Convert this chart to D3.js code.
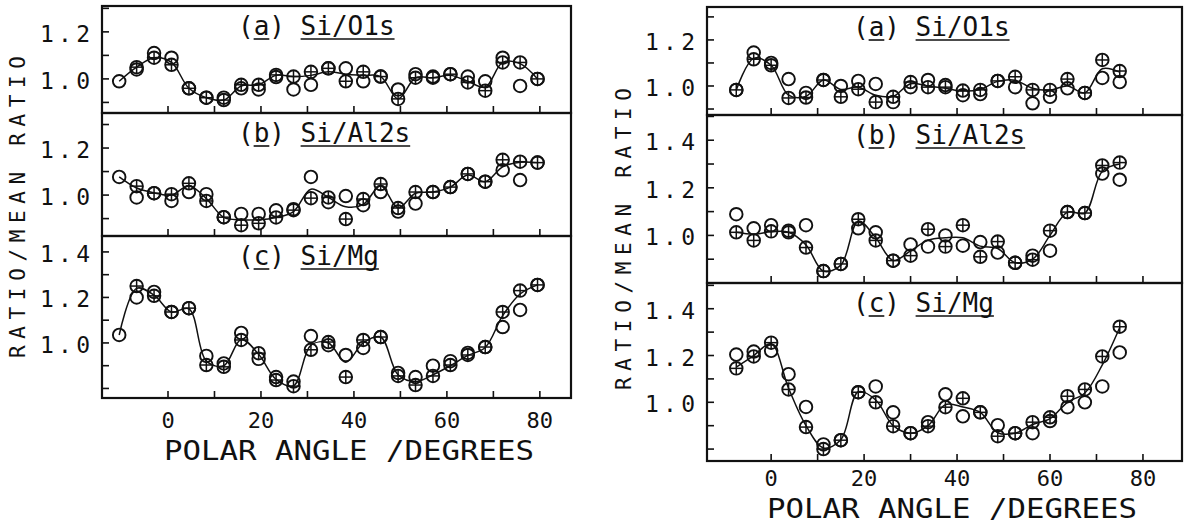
<!doctype html>
<html lang="en">
<head>
<meta charset="UTF-8">
<title>Ratio / mean ratio vs polar angle</title>
<script src="https://d3js.org/d3.v7.min.js"></script>
<style>
  body { margin: 0; background: #fff; }
  text { font-family: 'DejaVu Sans Mono', monospace; fill: #111; }
  .frame { fill: none; stroke: #111; stroke-width: 2.2px; }
  .tick { stroke: #111; stroke-width: 1.6px; }
  .fit { fill: none; stroke: #111; stroke-width: 1.5px; }
  .mark circle { fill: none; stroke: #111; stroke-width: 1.9px; }
  .mark line { stroke: #111; stroke-width: 1.5px; }
  .uline { stroke: #111; stroke-width: 1.6px; }
</style>
</head>
<body>
<script>
// polar angles (degrees) of the measured points
const anglesLeft = [-10.5, -6.75, -3, 0.75, 4.5, 8.25, 12, 15.75, 19.5, 23.25, 27, 30.75, 34.5,
                    38.25, 42, 45.75, 49.5, 53.25, 57, 60.75, 64.5, 68.25, 72, 75.75, 79.5];
const anglesRight = [-7.5, -3.75, 0, 3.75, 7.5, 11.25, 15, 18.75, 22.5, 26.25, 30, 33.75,
                     37.5, 41.25, 45, 48.75, 52.5, 56.25, 60, 63.75, 67.5, 71.25, 75];

const xTicks = [0, 10, 20, 30, 40, 50, 60, 70, 80];
const xTickLabels = [0, 20, 40, 60, 80];

// left figure — open circles, crossed circles, smooth line
const leftA_circ = [0.99, 1.04, 1.11, 1.09, 0.96, 0.92, 0.92, 0.96, 0.955, 1.008, 0.955, 0.975, 1.045,
                    1.045, 0.99, 1.01, 0.955, 1.02, 1.01, 1.02, 1.01, 0.99, 1.09, 0.97, 1.0];
const leftA_plus = [null, 1.05, 1.09, 1.06, 0.96, 0.92, 0.91, 0.975, 0.975, 1.017, 1.01, 1.03, 1.045,
                    0.99, 1.03, 1.01, 0.915, 1.005, 1.005, 1.02, 0.985, 0.95, 1.07, 1.07, 1.0];
const leftA_fit  = [0.99, 1.05, 1.09, 1.07, 0.96, 0.92, 0.91, 0.97, 0.975, 1.015, 1.01, 1.015, 1.03,
                    1.02, 1.015, 1.01, 0.915, 1.005, 1.005, 1.015, 0.99, 0.965, 1.07, 1.065, 1.0];

const leftB_circ = [1.077, 0.99, 1.008, 0.975, 1.013, 1.004, 0.906, 0.92, 0.92, 0.935, 0.94, 1.077, 0.97,
                    0.996, 0.957, 1.013, 0.93, 0.964, 1.013, 1.034, 1.09, 1.057, 1.106, 1.064, 1.138];
const leftB_plus = [null, 1.038, 1.008, 1.004, 1.05, 0.975, 0.906, 0.872, 0.88, 0.905, 0.936, 0.987, 0.99,
                    0.898, 0.983, 1.047, 0.945, 1.013, 1.013, 1.034, 1.09, 1.057, 1.15, 1.142, 1.138];
const leftB_fit  = [1.077, 1.03, 1.01, 1.0, 1.04, 0.985, 0.905, 0.895, 0.895, 0.905, 0.93, 1.025, 0.99,
                    0.95, 0.96, 1.04, 0.945, 1.008, 1.013, 1.034, 1.085, 1.057, 1.12, 1.14, 1.138];

const leftC_circ = [1.035, 1.2, 1.224, 1.136, 1.153, 0.943, 0.91, 1.044, 0.93, 0.85, 0.83, 1.03, 0.99,
                    0.947, 0.978, 1.026, 0.868, 0.85, 0.9, 0.92, 0.956, 0.982, 1.07, 1.145, 1.255];
const leftC_plus = [null, 1.25, 1.207, 1.136, 1.153, 0.903, 0.895, 1.013, 0.955, 0.837, 0.81, 0.97, 1.004,
                    0.85, 1.013, 1.026, 0.855, 0.815, 0.855, 0.903, 0.947, 0.982, 1.136, 1.23, 1.255];
const leftC_fit  = [1.035, 1.24, 1.21, 1.136, 1.15, 0.92, 0.9, 1.015, 0.95, 0.84, 0.812, 0.99, 1.0,
                    0.915, 1.0, 1.026, 0.86, 0.83, 0.86, 0.9, 0.945, 0.98, 1.12, 1.215, 1.255];

// right figure
const rightA_circ = [0.983, 1.145, 1.1, 1.03, 0.97, 1.026, 1.0, 1.022, 1.009, 0.93, 0.995, 1.026,
                     1.004, 0.96, 0.965, 1.022, 0.995, 0.925, 0.953, 0.99, 0.97, 1.035, 1.017];
const rightA_plus = [0.983, 1.116, 1.09, 0.948, 0.95, 1.026, 0.953, 0.986, 0.93, 0.953, 1.017, 0.995,
                     0.995, 0.98, 0.983, 1.022, 1.04, 0.983, 0.983, 1.03, 0.97, 1.113, 1.065];
const rightA_fit  = [0.983, 1.12, 1.09, 0.96, 0.955, 1.026, 0.985, 0.995, 0.96, 0.955, 1.01, 1.0,
                     0.99, 0.978, 0.985, 1.02, 1.025, 0.99, 0.982, 1.0, 0.97, 1.075, 1.06];

const rightB_circ = [1.089, 1.03, 1.043, 1.02, 1.043, 0.85, 0.88, 1.03, 1.013, 0.894, 0.962, 0.953,
                     1.0, 0.957, 0.972, 0.928, 0.885, 0.915, 0.936, 1.098, 1.094, 1.26, 1.234];
const rightB_plus = [1.013, 0.979, 1.017, 1.013, 0.949, 0.85, 0.88, 1.068, 0.979, 0.894, 0.915, 1.026,
                     0.953, 1.043, 0.91, 0.974, 0.885, 0.898, 1.02, 1.098, 1.094, 1.294, 1.306];
const rightB_fit  = [1.013, 1.005, 1.015, 1.013, 0.96, 0.85, 0.875, 1.06, 0.99, 0.895, 0.935, 0.98,
                     0.99, 0.99, 0.955, 0.945, 0.885, 0.9, 1.0, 1.098, 1.094, 1.27, 1.3];

const rightC_circ = [1.204, 1.217, 1.22, 1.12, 0.98, 0.82, 0.838, 1.043, 1.068, 0.957, 0.868, 0.915,
                     1.034, 0.94, 0.957, 0.902, 0.868, 0.868, 0.92, 0.979, 1.0, 1.068, 1.213];
const rightC_plus = [1.145, 1.196, 1.255, 1.055, 0.894, 0.8, 0.838, 1.043, 1.0, 0.898, 0.868, 0.898,
                     0.979, 1.017, 0.957, 0.855, 0.868, 0.915, 0.936, 1.026, 1.055, 1.196, 1.323];
const rightC_fit  = [1.15, 1.2, 1.25, 1.06, 0.9, 0.805, 0.84, 1.045, 1.01, 0.9, 0.868, 0.9,
                     0.99, 0.98, 0.957, 0.87, 0.868, 0.905, 0.93, 1.0, 1.04, 1.16, 1.32];

const panelLetters = ['a', 'b', 'c'];
const panelRatios = ['Si/O1s', 'Si/Al2s', 'Si/Mg'];

const width = 1186, height = 528;

const figures = [
  { left: 102, right: 571, xDom: [-14.2, 86.7], angles: anglesLeft,
    labelX: 238, yTitleX: 25, tickLabelY: 428, xTitleY: 460,
    panels: [
      { top: 6,   bottom: 113, dom: [0.855, 1.31],  ticks: [1.0, 1.2],      circ: leftA_circ, plus: leftA_plus, fit: leftA_fit },
      { top: 113, bottom: 236, dom: [0.826, 1.349], ticks: [1.0, 1.2],      circ: leftB_circ, plus: leftB_plus, fit: leftB_fit },
      { top: 236, bottom: 398, dom: [0.758, 1.47],  ticks: [1.0, 1.2, 1.4], circ: leftC_circ, plus: leftC_plus, fit: leftC_fit }
    ] },
  { left: 707, right: 1182, xDom: [-13.8, 88.4], angles: anglesRight,
    labelX: 853, yTitleX: 631, tickLabelY: 486, xTitleY: 518,
    panels: [
      { top: 7,   bottom: 115, dom: [0.874, 1.343], ticks: [1.0, 1.2],      circ: rightA_circ, plus: rightA_plus, fit: rightA_fit },
      { top: 115, bottom: 283, dom: [0.8, 1.506],   ticks: [1.0, 1.2, 1.4], circ: rightB_circ, plus: rightB_plus, fit: rightB_fit },
      { top: 283, bottom: 461, dom: [0.749, 1.51],  ticks: [1.0, 1.2, 1.4], circ: rightC_circ, plus: rightC_plus, fit: rightC_fit }
    ] }
];

const svg = d3.select('body').append('svg')
    .attr('width', width)
    .attr('height', height);

const R = 6.3;

figures.forEach(fig => {
  const x = d3.scaleLinear().domain(fig.xDom).range([fig.left, fig.right]);
  const g = svg.append('g');

  fig.panels.forEach((p, pi) => {
    const y = d3.scaleLinear().domain(p.dom).range([p.bottom, p.top]);

    // ticks every 0.1 on the left edge, pointing inward
    const yt = d3.range(Math.ceil(p.dom[0] * 10 + 1e-6), Math.floor(p.dom[1] * 10 - 1e-6) + 1).map(v => v / 10);
    g.selectAll(null).data(yt).enter().append('line')
        .attr('class', 'tick')
        .attr('x1', fig.left).attr('x2', fig.left + 7)
        .attr('y1', d => y(d)).attr('y2', d => y(d));

    g.selectAll(null).data(p.ticks).enter().append('text')
        .attr('x', fig.left - 12)
        .attr('y', d => y(d) + 10)
        .attr('text-anchor', 'end')
        .attr('font-size', 23)
        .attr('textLength', 50)
        .attr('lengthAdjust', 'spacing')
        .text(d => d.toFixed(1));

    // bottom ticks pointing up
    g.selectAll(null).data(xTicks).enter().append('line')
        .attr('class', 'tick')
        .attr('x1', d => x(d)).attr('x2', d => x(d))
        .attr('y1', p.bottom).attr('y2', p.bottom - 7);

    // smooth line
    const line = d3.line()
        .x((d, i) => x(fig.angles[i]))
        .y(d => y(d))
        .curve(d3.curveCatmullRom.alpha(0.5));
    g.append('path').attr('class', 'fit').attr('d', line(p.fit));

    // open circles
    g.selectAll(null).data(p.circ.map((v, i) => [fig.angles[i], v]).filter(d => d[1] != null))
      .enter().append('g').attr('class', 'mark')
        .append('circle')
        .attr('cx', d => x(d[0])).attr('cy', d => y(d[1])).attr('r', R);

    // crossed circles
    const pm = g.selectAll(null).data(p.plus.map((v, i) => [fig.angles[i], v]).filter(d => d[1] != null))
      .enter().append('g').attr('class', 'mark')
        .attr('transform', d => `translate(${x(d[0])},${y(d[1])})`);
    pm.append('circle').attr('r', R);
    pm.append('line').attr('x1', -R).attr('x2', R);
    pm.append('line').attr('y1', -R).attr('y2', R);

    // panel label, letter and ratio underlined
    const lab = g.append('text')
        .attr('x', fig.labelX)
        .attr('y', p.top + 29)
        .attr('font-size', 26)
        .text(`(${panelLetters[pi]}) ${panelRatios[pi]}`);
    const node = lab.node();
    const n = node.getNumberOfChars();
    const ub = p.top + 33;
    const e1 = node.getExtentOfChar(1);
    g.append('line').attr('class', 'uline')
        .attr('x1', e1.x).attr('x2', e1.x + e1.width).attr('y1', ub).attr('y2', ub);
    const s = node.getExtentOfChar(4), e = node.getExtentOfChar(n - 1);
    g.append('line').attr('class', 'uline')
        .attr('x1', s.x).attr('x2', e.x + e.width).attr('y1', ub).attr('y2', ub);

    g.append('rect').attr('class', 'frame')
        .attr('x', fig.left).attr('y', p.top)
        .attr('width', fig.right - fig.left).attr('height', p.bottom - p.top);
  });

  const last = fig.panels[fig.panels.length - 1];
  const first = fig.panels[0];

  g.selectAll(null).data(xTickLabels).enter().append('text')
      .attr('x', d => x(d))
      .attr('y', fig.tickLabelY)
      .attr('text-anchor', 'middle')
      .attr('font-size', 22)
      .text(d => d);

  g.append('text')
      .attr('x', x(0) - 4)
      .attr('y', fig.xTitleY)
      .attr('font-size', 26)
      .attr('textLength', 370)
      .attr('lengthAdjust', 'spacingAndGlyphs')
      .text('POLAR ANGLE /DEGREES');

  const cy = (first.top + last.bottom) / 2 + 5;
  g.append('text')
      .attr('transform', `translate(${fig.yTitleX},${cy}) rotate(-90)`)
      .attr('text-anchor', 'middle')
      .attr('font-size', 21)
      .attr('textLength', 302)
      .attr('lengthAdjust', 'spacing')
      .text('RATIO/MEAN RATIO');
});
</script>
</body>
</html>
